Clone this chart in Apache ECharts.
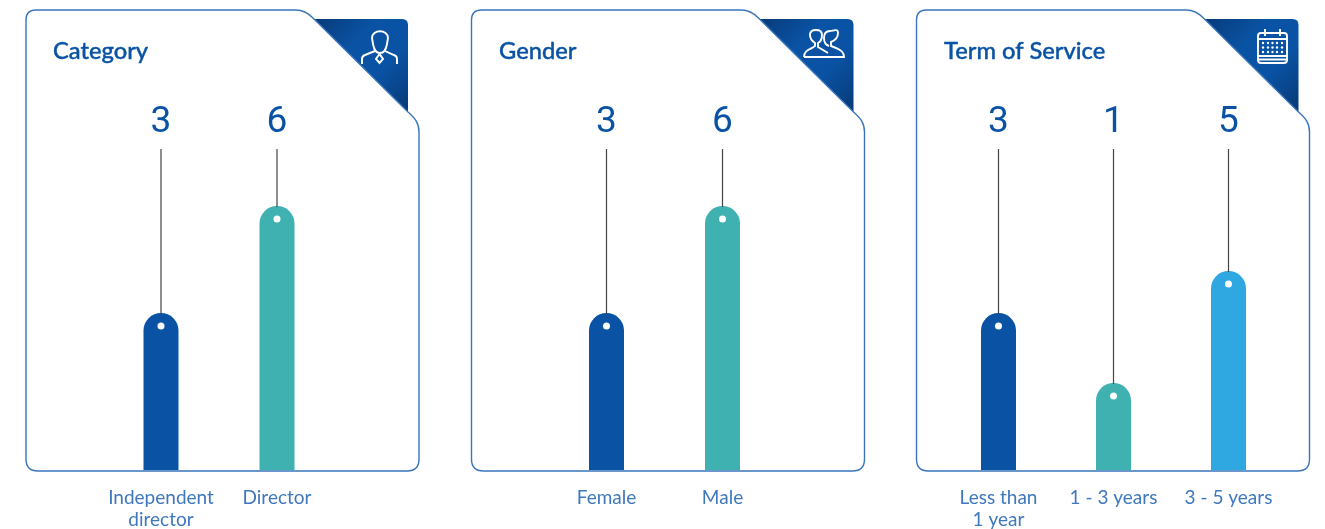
<!DOCTYPE html>
<html lang="en" style="height: 100%">
<head>
    <meta charset="utf-8">
    <style>
        body { height: 100%; margin: 0; background: #fff; }
        #container { width: 1325px; height: 529px; }
    </style>
</head>
<body>
<div id="container"></div>
<script src="https://cdn.jsdelivr.net/npm/echarts@6/dist/echarts.min.js"></script>
<script>
    // values printed above the bars
    var categoryNames = ['Independent\ndirector', 'Director'];
    var categoryValues = [3, 6];
    var genderNames = ['Female', 'Male'];
    var genderValues = [3, 6];
    var termNames = ['Less than\n1 year', '1 - 3 years', '3 - 5 years'];
    var termValues = [3, 1, 5];

    // the bars in the picture are not to scale with the printed numbers, so lengths are read off separately
    var categoryLengths = [157, 264];
    var genderLengths = [157, 264];
    var termLengths = [157, 87, 199];

    var panelTitles = ['Category', 'Gender', 'Term of Service'];
    var barColors = ['#0a53a4', '#3fb1b0', '#2fa8e2'];

    var axisTop = 321;
    var blue = '#0a53a4';
    var labelBlue = '#3f78bd';

    var dom = document.getElementById('container');
    var myChart = echarts.init(dom);

    function renderStem(params, api) {
        var x = api.value(0);
        var top = api.coord([x, axisTop]);
        var end = api.coord([x, api.value(1)]);
        var dot = api.coord([x, api.value(1) - 13]);
        return {
            type: 'group',
            children: [
                {
                    type: 'line',
                    shape: { x1: top[0], y1: top[1], x2: end[0], y2: end[1] + 1 },
                    style: { stroke: '#444', lineWidth: 1.2 }
                },
                {
                    type: 'circle',
                    shape: { cx: dot[0], cy: dot[1], r: 3.5 },
                    style: { fill: '#fff' }
                },
                {
                    type: 'text',
                    x: top[0],
                    y: top[1] - 26,
                    style: {
                        text: String(api.value(2)),
                        fill: blue,
                        font: '37px Roboto',
                        align: 'center',
                        verticalAlign: 'middle'
                    }
                }
            ]
        };
    }

    function panelSeries(index, lengths, values) {
        return [
            {
                type: 'bar',
                xAxisIndex: index,
                yAxisIndex: index,
                barWidth: 35,
                silent: true,
                z: 2,
                data: lengths.map(function (v, i) {
                    return {
                        value: v,
                        itemStyle: { color: barColors[i], borderRadius: [17.5, 17.5, 0, 0] }
                    };
                })
            },
            {
                type: 'custom',
                xAxisIndex: index,
                yAxisIndex: index,
                silent: true,
                z: 3,
                renderItem: renderStem,
                encode: { x: 0, y: 1 },
                data: lengths.map(function (v, i) {
                    return [i, v, values[i]];
                })
            }
        ];
    }

    function xAxisFor(index, names) {
        return {
            type: 'category',
            gridIndex: index,
            data: names,
            axisLine: { show: false },
            axisTick: { show: false },
            axisLabel: {
                interval: 0,
                color: labelBlue,
                fontFamily: 'Lato',
                fontSize: 19,
                lineHeight: 22,
                margin: 17
            }
        };
    }

    function yAxisFor(index) {
        return { type: 'value', gridIndex: index, min: 0, max: axisTop, show: false };
    }

    // card outline with the cut corner, drawn relative to the first card
    var cardPath = 'M36,10 H296 C303,10 308,13 313,18 L408,112 C415,118 419,123 419,132 ' +
        'V459 Q419,471 407,471 H38 Q26,471 26,459 V20 Q26,10 36,10 Z';
    var tabPath = 'M298,19 H402 Q408,19 408,25 V125 Z';

    var personIcon = 'M372,38 C372,29 388,29 388,38 L387,44 C386,50 383,53 380,53 C377,53 374,50 373,44 Z ' +
        'M362,64 V59 Q362,56 365,55 L375,51 M397,64 V59 Q397,56 394,55 L385,51 ' +
        'M379.5,54 L376,59 L379.5,63 L383,59 Z';
    var peopleIcon = 'M804,57 H844 C844,52 841,50 836,48 L831,46 L831,42 C836,40 838,36 838,33 C838,28 833,31 ' +
        '830,31 C826,31 824,34 824,38 C824,42 826,45 829,46 M804,57 C804,52 807,50 812,48 L815,46 L815,43 ' +
        'C812,41 810,38 810,35 C810,31 813,30 816,30 C819,30 822,31 822,35 C822,39 820,42 818,43 L818,47 L828,53';
    var calendarIcon = 'M1261,33 H1284 Q1287,33 1287,36 V60 Q1287,63 1284,63 H1261 Q1258,63 1258,60 V36 Q1258,33 1261,33 Z ' +
        'M1258,39 H1287 M1258,56 H1287 M1258,59.5 H1287 M1265,29 V36 M1280,29 V36';

    // graphic has no plain path type, so each outline gets registered as a shape
    function addShape(name, pathData) {
        echarts.graphic.registerShape(name, echarts.graphic.extendPath(pathData, {}));
    }
    addShape('cardShape', cardPath);
    addShape('tabShape', tabPath);
    addShape('personShape', personIcon);
    addShape('peopleShape', peopleIcon);
    addShape('calendarShape', calendarIcon);

    var graphics = [];
    [0, 445.5, 890.5].forEach(function (dx) {
        graphics.push({
            type: 'tabShape',
            x: dx,
            z: -2,
            style: {
                fill: new echarts.graphic.LinearGradient(0, 0, 1, 1, [
                    { offset: 0.1, color: '#083c7c' },
                    { offset: 0.38, color: blue },
                    { offset: 0.62, color: blue },
                    { offset: 0.9, color: '#083c7c' }
                ])
            }
        });
        graphics.push({
            type: 'cardShape',
            x: dx,
            z: -1,
            style: { fill: '#fff', stroke: '#3a75ba', lineWidth: 1.4 }
        });
    });
    ['personShape', 'peopleShape', 'calendarShape'].forEach(function (name) {
        graphics.push({
            type: name,
            z: 5,
            style: { fill: 'none', stroke: '#fff', lineWidth: 1.9 }
        });
    });
    // calendar dots
    [43, 47.5, 52].forEach(function (y) {
        [1263, 1268, 1272.5, 1277, 1282].forEach(function (x) {
            graphics.push({
                type: 'circle',
                z: 5,
                shape: { cx: x, cy: y, r: 1.2 },
                style: { fill: '#fff' }
            });
        });
    });

    var option = {
        animation: false,
        backgroundColor: '#fff',
        title: panelTitles.map(function (t, i) {
            return {
                text: t,
                left: [48, 494, 939][i],
                top: 34,
                textStyle: {
                    color: blue,
                    fontFamily: 'Lato',
                    fontSize: 23.7,
                    fontWeight: 500,
                    textBorderColor: blue,
                    textBorderWidth: 0.4
                }
            };
        }),
        graphic: { elements: graphics },
        grid: [
            { left: 103, width: 232, top: 149, height: 321, outerBoundsMode: 'none' },
            { left: 548.5, width: 232, top: 149, height: 321, outerBoundsMode: 'none' },
            { left: 941, width: 345, top: 149, height: 321, outerBoundsMode: 'none' }
        ],
        xAxis: [xAxisFor(0, categoryNames), xAxisFor(1, genderNames), xAxisFor(2, termNames)],
        yAxis: [yAxisFor(0), yAxisFor(1), yAxisFor(2)],
        series: [].concat(
            panelSeries(0, categoryLengths, categoryValues),
            panelSeries(1, genderLengths, genderValues),
            panelSeries(2, termLengths, termValues)
        )
    };

    myChart.setOption(option);
    window.addEventListener('resize', myChart.resize);
</script>
</body>
</html>
